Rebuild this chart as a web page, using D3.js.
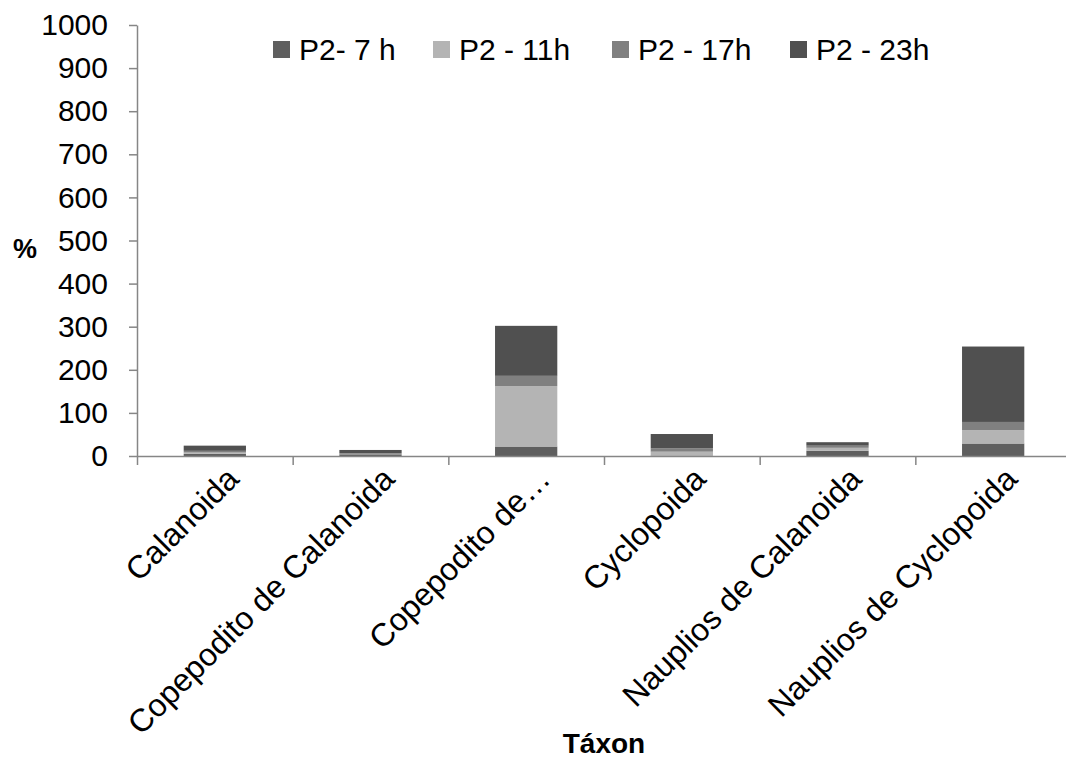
<!DOCTYPE html>
<html>
<head>
<meta charset="utf-8">
<script src="https://cdn.jsdelivr.net/npm/d3@7"></script>
<style>
  body { margin: 0; background: #fff; }
  text { font-family: "Liberation Sans", Arial, sans-serif; }
</style>
</head>
<body>
<svg id="chart"></svg>
<script>
var categories = ["Calanoida", "Copepodito de Calanoida", "Copepodito de\u2026", "Cyclopoida", "Nauplios de Calanoida", "Nauplios de Cyclopoida"];
var seriesNames = ["P2- 7 h", "P2 - 11h", "P2 - 17h", "P2 - 23h"];
var p2_7h  = [5, 4, 22, 1, 12, 29];
var p2_11h = [3, 1, 140, 9, 7, 31];
var p2_17h = [4, 1, 24, 8, 5, 19];
var p2_23h = [12, 8, 116, 33, 8, 175];
var yTicks = [0, 100, 200, 300, 400, 500, 600, 700, 800, 900, 1000];
var colors = ["#5f5f5f", "#b4b4b4", "#808080", "#505050"];

var width = 1066;
var height = 758;
var margin = { top: 25, right: -5, bottom: 302, left: 137 };

var series = [p2_7h, p2_11h, p2_17h, p2_23h];
var rows = categories.map(function (c, i) {
    var r = { cat: c };
    seriesNames.forEach(function (s, j) { r[s] = series[j][i]; });
    return r;
});

var stacked = d3.stack().keys(seriesNames)(rows);

var svg = d3.select("#chart")
    .attr("width", width)
    .attr("height", height);

var x = d3.scaleBand()
    .domain(categories)
    .range([margin.left, width - margin.right])
    .paddingInner(0.6)
    .paddingOuter(0.3);

var xEdges = d3.scaleLinear()
    .domain([0, categories.length])
    .range([margin.left, width - margin.right]);

var y = d3.scaleLinear()
    .domain([0, 1000])
    .range([height - margin.bottom, margin.top]);

// bars
svg.append("g")
    .selectAll("g")
    .data(stacked)
    .enter().append("g")
    .attr("fill", function (d, i) { return colors[i]; })
    .selectAll("rect")
    .data(function (d) { return d; })
    .enter().append("rect")
    .attr("x", function (d) { return x(d.data.cat); })
    .attr("y", function (d) { return y(d[1]); })
    .attr("width", x.bandwidth())
    .attr("height", function (d) { return y(d[0]) - y(d[1]); });

// y axis
var yAxis = svg.append("g")
    .attr("transform", "translate(" + margin.left + ",0)")
    .call(d3.axisLeft(y).tickValues(yTicks).tickFormat(d3.format("d"))
        .tickSize(8).tickPadding(21).tickSizeOuter(0));
yAxis.select(".domain").attr("stroke", "#868686").attr("stroke-width", 1.5);
yAxis.selectAll(".tick line").attr("stroke", "#868686").attr("stroke-width", 1.5);
yAxis.selectAll(".tick text")
    .attr("font-size", "30px")
    .attr("fill", "#000")
    .style("font-family", "'Liberation Sans', Arial, sans-serif");

// x axis (ticks at category boundaries)
var xAxis = svg.append("g")
    .attr("transform", "translate(0," + y(0) + ")")
    .call(d3.axisBottom(xEdges).tickValues(d3.range(0, categories.length + 1))
        .tickSize(9).tickFormat("").tickSizeOuter(0));
xAxis.select(".domain").attr("stroke", "#868686").attr("stroke-width", 1.5);
xAxis.selectAll(".tick line").attr("stroke", "#868686").attr("stroke-width", 1.5);

// category labels
svg.append("g")
    .selectAll("text")
    .data(categories)
    .enter().append("text")
    .attr("transform", function (d) {
        var cx = x(d) + x.bandwidth() / 2 + 10;
        return "translate(" + cx + "," + (y(0) + 9) + ") rotate(-45)";
    })
    .attr("text-anchor", "end")
    .attr("dy", "0.7em")
    .attr("font-size", "32px")
    .attr("fill", "#000")
    .text(function (d) { return d; });

// axis titles
svg.append("text")
    .attr("x", 25)
    .attr("y", 258)
    .attr("text-anchor", "middle")
    .attr("font-size", "27px")
    .attr("font-weight", "bold")
    .text("%");

svg.append("text")
    .attr("x", 604)
    .attr("y", 753)
    .attr("text-anchor", "middle")
    .attr("font-size", "28px")
    .attr("font-weight", "bold")
    .text("Táxon");

// legend
var legendX = [273, 433, 612, 790];
var legend = svg.append("g")
    .selectAll("g")
    .data(seriesNames)
    .enter().append("g")
    .attr("transform", function (d, i) { return "translate(" + legendX[i] + ",41)"; });
legend.append("rect")
    .attr("width", 17)
    .attr("height", 17)
    .attr("fill", function (d, i) { return colors[i]; });
legend.append("text")
    .attr("x", 26)
    .attr("y", 19)
    .attr("font-size", "30px")
    .attr("fill", "#000")
    .text(function (d) { return d; });
</script>
</body>
</html>
